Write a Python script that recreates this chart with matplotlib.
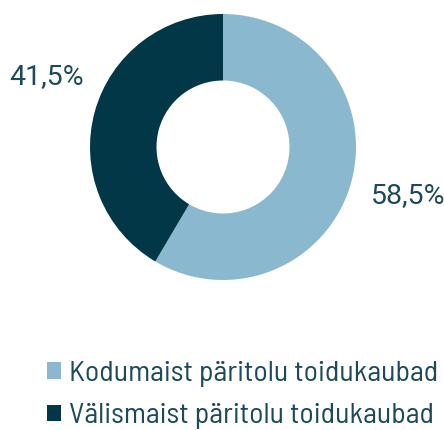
import matplotlib
matplotlib.use("Agg")
import matplotlib.pyplot as plt
from matplotlib.patches import Patch

categories = ["Kodumaist päritolu toidukaubad", "Välismaist päritolu toidukaubad"]
values = [58.5, 41.5]
labels = ["58,5%", "41,5%"]
colors = ["#8ab9cf", "#023747"]
text_color = "#1c4a59"

plt.rcParams['font.family'] = ['Barlow Semi Condensed', 'Roboto', 'DejaVu Sans']
pct_font = ['Roboto', 'DejaVu Sans']

W, H = 444, 430
fig = plt.figure(figsize=(W/100, H/100), dpi=100)
cx, cy, r = 223, 147, 133
ax = fig.add_axes([(cx - r)/W, (H - cy - r)/H, 2*r/W, 2*r/H])
ax.pie(values, colors=colors, startangle=90, counterclock=False,
       radius=1, wedgeprops=dict(width=0.5, linewidth=0))
ax.set_xlim(-1, 1); ax.set_ylim(-1, 1)
ax.set_aspect('equal'); ax.axis('off')

fig.text(408/W, 1 - 196/H, labels[0], ha='center', va='center', fontsize=20.5,
         color=text_color, family=pct_font)
fig.text(47/W, 1 - 77/H, labels[1], ha='center', va='center', fontsize=20.5,
         color=text_color, family=pct_font)

handles = [Patch(facecolor=c, edgecolor='none') for c in colors]
fig.legend(handles, categories, loc='upper left', bbox_to_anchor=(47/W, 1 - 361/H),
           frameon=False, fontsize=21.5, labelcolor=text_color,
           handlelength=0.47, handleheight=0.47, handletextpad=0.27,
           labelspacing=0.55, borderpad=0, borderaxespad=0)

fig.savefig("out.png", dpi=100)
